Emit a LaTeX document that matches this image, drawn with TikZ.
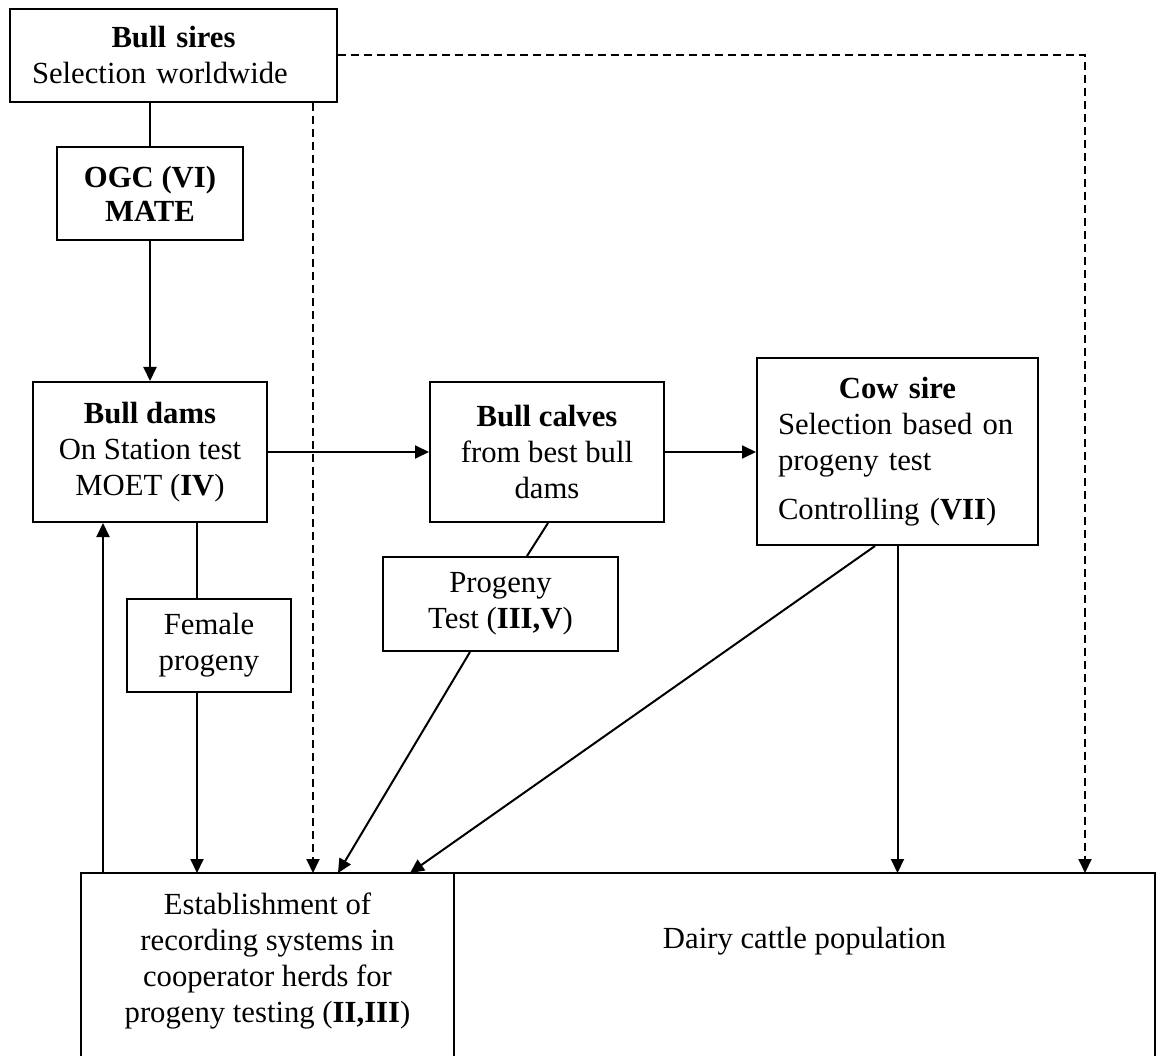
\documentclass[tikz,border=0pt]{standalone}
\usepackage{fontspec}
\setmainfont{Liberation Serif}
\usetikzlibrary{arrows.meta}
\setlength{\parindent}{0pt}
\begin{document}
\begin{tikzpicture}[x=1pt,y=-1pt,
  every node/.style={font=\fontsize{30.7}{36}\selectfont},
  box/.style={draw, line width=2pt, inner sep=0pt},
  con/.style={line width=2pt},
  arr/.style={con, -{Triangle[length=14pt,width=13pt]}},
  darr/.style={arr, dash pattern=on 8pt off 5pt}
]
\useasboundingbox (0,0) rectangle (1160,1056);

% boxes
\node[box, minimum height=93pt, text width=283pt, inner xsep=22pt] (bs) at (173.5,55.5)
  {\noindent{\centering\textbf{Bull sires}\par}\noindent Selection worldwide};
\node[box, align=center, minimum width=186pt, minimum height=93pt] (ogc) at (150,193.5)
  {\textbf{OGC (VI)}\\[-2pt]\textbf{MATE}};
\node[box, align=center, minimum width=234pt, minimum height=140pt] (bd) at (150,452)
  {\textbf{Bull dams}\\On Station test\\MOET (\textbf{IV})};
\node[box, align=center, minimum width=234pt, minimum height=140pt] (bc) at (547,452)
  {\textbf{Bull calves}\\from best bull\\dams};
\node[box, minimum height=187pt, text width=239pt, inner xsep=21pt] (cs) at (897.5,451.5)
  {\noindent{\centering\textbf{Cow sire}\par}{\raggedright Selection based on\\progeny test\par}\vspace{13pt}{\raggedright Controlling (\textbf{VII})\par}};
\node[box, align=center, minimum width=235pt, minimum height=94pt] (pt) at (500.5,604)
  {Progeny\\Test (\textbf{III,V})};
\node[box, align=center, minimum width=164pt, minimum height=93pt] (fp) at (209,645.5)
  {Female\\progeny};
\node[align=center, minimum width=373pt, minimum height=176pt, anchor=north, inner sep=0pt] (est) at (267.5,873)
  {Establishment of\\recording systems in\\cooperator herds for\\progeny testing (\textbf{II,III})};
\node[minimum width=701pt, minimum height=136pt, anchor=north, inner sep=0pt] (dc) at (804.5,873)
  {Dairy cattle population};

% open-bottom outline of the two lower boxes
\coordinate (bot) at (0,1056);
\draw[con] (est.north west |- bot) -- (est.north west) -- (dc.north east) -- (dc.north east |- bot);
\draw[con] (est.north east) -- (est.north east |- bot);

% helper x positions
\coordinate (fpx) at (197,0);
\coordinate (upx) at (103,0);
\coordinate (dsx) at (313,0);
\coordinate (drx) at (1085,0);

% connectors
\draw[con] (ogc.north |- bs.south) -- (ogc.north);
\draw[arr] (ogc.south) -- (bd.north);
\draw[arr] (bd.east) -- (bc.west);
\draw[arr] (bc.east) -- (cs.west |- bc.east);
\draw[con] (fpx |- bd.south) -- (fpx |- fp.north);
\draw[arr] (fpx |- fp.south) -- (fpx |- est.north);
\draw[arr] (upx |- est.north) -- (upx |- bd.south);
\draw[con] ([xshift=1pt]bc.south) -- ([xshift=26.5pt]pt.north);
\draw[arr] ([xshift=-30.5pt]pt.south) -- ([xshift=70.5pt]est.north);
\draw[arr] ([xshift=-22.5pt]cs.south) -- ([xshift=142.5pt]est.north);
\draw[arr] (cs.south) -- (cs.south |- dc.north);
\draw[darr] (dsx |- bs.south) -- (dsx |- est.north);
\draw[darr] (bs.east) -| (drx |- dc.north);
\end{tikzpicture}
\end{document}
